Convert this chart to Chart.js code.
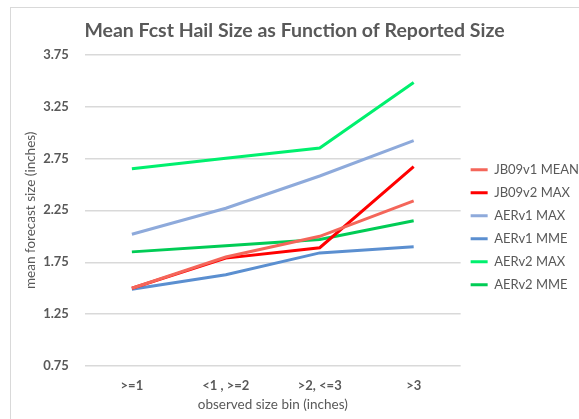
<!DOCTYPE html>
<html>
<head>
<meta charset="utf-8">
<script src="https://cdn.jsdelivr.net/npm/chart.js@4"></script>
<style>
    body { margin: 0; background: #fff; }
    #frame { position: absolute; left: 10px; top: 7px; width: 600px; height: 440px; border: 1px solid #d9d9d9; }
    #wrap { position: absolute; left: 0; top: 0; width: 579px; height: 419px; }
</style>
</head>
<body>
<div id="frame"></div>
<div id="wrap"><canvas id="hailChart"></canvas></div>
<script>
var gray = '#595959';
var gridGray = '#d9d9d9';

// Data.
var bins = ['>=1', '<1 , >=2', '>2, <=3', '>3'];
var jb09v1Mean = [1.50, 1.80, 2.00, 2.34];
var jb09v2Max = [1.50, 1.79, 1.89, 2.67];
var aerv1Max = [2.02, 2.27, 2.58, 2.92];
var aerv1Mme = [1.49, 1.63, 1.84, 1.90];
var aerv2Max = [2.65, 2.75, 2.85, 3.48];
var aerv2Mme = [1.85, 1.91, 1.97, 2.15];

function series(label, values, color) {
    return {
        label: label,
        data: values,
        borderColor: color,
        backgroundColor: color,
        borderWidth: 3,
        pointRadius: 0,
        tension: 0,
        fill: false
    };
}

var ctx = document.getElementById('hailChart').getContext('2d');
var myChart = new Chart(ctx, {
    type: 'line',
    data: {
        labels: bins,
        datasets: [
            series('JB09v1 MEAN', jb09v1Mean, '#f4665a'),
            series('JB09v2 MAX', jb09v2Max, '#ff0000'),
            series('AERv1 MAX', aerv1Max, '#8eaadb'),
            series('AERv1 MME', aerv1Mme, '#5b8fd0'),
            series('AERv2 MAX', aerv2Max, '#00f06e'),
            series('AERv2 MME', aerv2Mme, '#00cc55')
        ]
    },
    options: {
        responsive: true,
        maintainAspectRatio: false,
        animation: false,
        layout: {
            padding: { left: 0, right: -10, top: 6, bottom: 4 }
        },
        plugins: {
            title: {
                display: true,
                text: 'Mean Fcst Hail Size as Function of Reported Size',
                color: gray,
                font: { family: 'Lato', size: 19.5, weight: 'bold' },
                padding: { top: 13, bottom: 12 }
            },
            legend: {
                position: 'right',
                title: {
                    display: true,
                    text: ' ',
                    padding: { top: 19 }
                },
                labels: {
                    usePointStyle: true,
                    pointStyle: 'line',
                    pointStyleWidth: 17,
                    boxWidth: 17,
                    boxHeight: 12,
                    padding: 10,
                    color: gray,
                    font: { family: 'Lato', size: 13 }
                }
            },
            tooltip: { enabled: false }
        },
        scales: {
            x: {
                offset: true,
                grid: { display: false, drawTicks: false },
                border: { display: false },
                ticks: {
                    color: gray,
                    padding: 12,
                    font: { family: 'Lato', size: 13, weight: 'bold' }
                },
                title: {
                    display: true,
                    text: 'observed size bin (inches)',
                    color: gray,
                    padding: { top: -9, bottom: 2 },
                    font: { family: 'Lato', size: 13.5 }
                }
            },
            y: {
                min: 0.75,
                max: 3.75,
                border: { display: false },
                grid: { color: gridGray, lineWidth: 1.5, drawTicks: false },
                ticks: {
                    stepSize: 0.5,
                    color: gray,
                    padding: 16,
                    font: { family: 'Lato', size: 13, weight: 'bold' },
                    callback: function (v) { return v.toFixed(2); }
                },
                title: {
                    display: true,
                    text: 'mean forecast size (inches)',
                    color: gray,
                    padding: { top: 23, bottom: -12 },
                    font: { family: 'Lato', size: 13.5 }
                }
            }
        }
    }
});
</script>
</body>
</html>
